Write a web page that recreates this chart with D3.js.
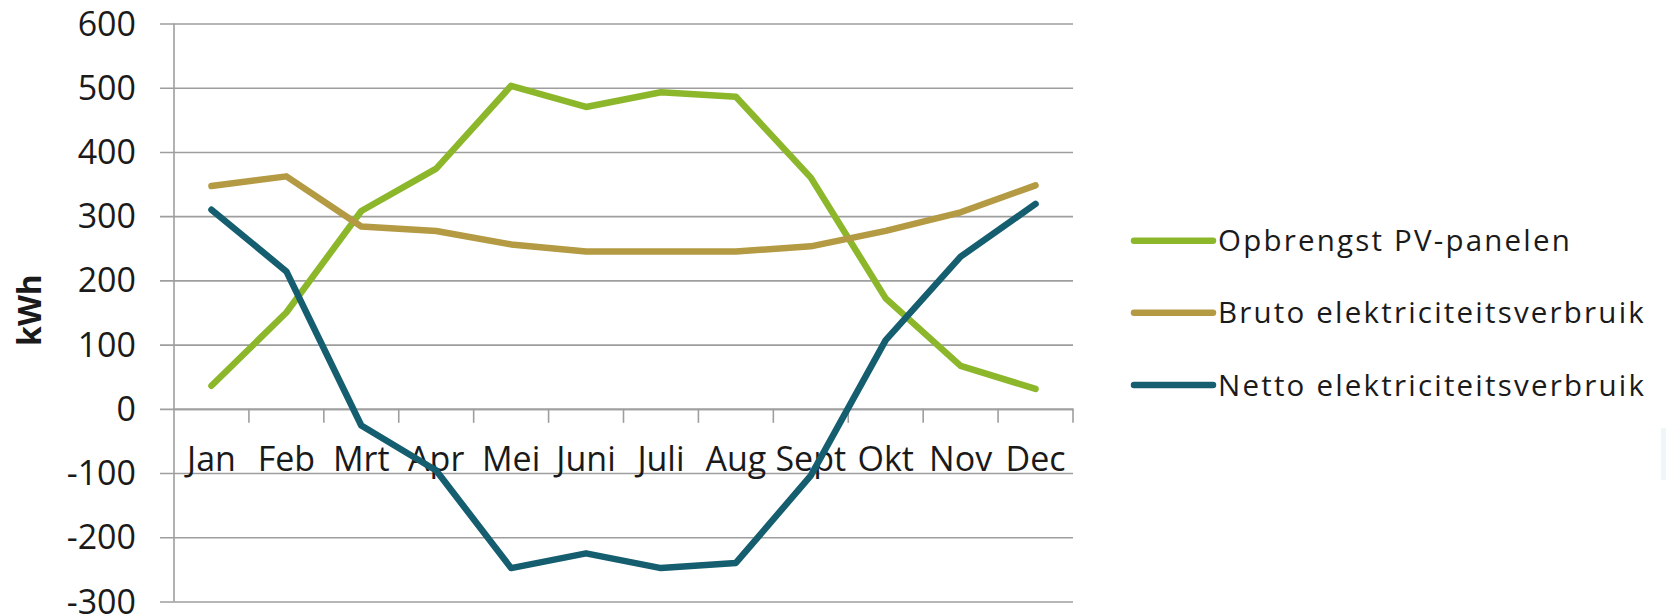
<!DOCTYPE html>
<html>
<head>
<meta charset="utf-8">
<script src="https://cdn.jsdelivr.net/npm/d3@7"></script>
<style>
  html, body { margin: 0; padding: 0; background: #fff; }
  svg { display: block; }
  text { font-family: "Open Sans", sans-serif; fill: #1a1a1a; }
</style>
</head>
<body>
<svg id="chart" width="1666" height="616"></svg>
<script>
const categories = ["Jan", "Feb", "Mrt", "Apr", "Mei", "Juni", "Juli", "Aug", "Sept", "Okt", "Nov", "Dec"];
const pvValues    = [36, 150, 308, 374, 503, 470, 493, 486, 360, 172, 67, 31];
const brutoValues = [347, 362, 284, 277, 256, 245, 245, 245, 253, 277, 306, 348];
const nettoValues = [310, 214, -26, -96, -248, -225, -248, -240, -104, 107, 237, 319];
const seriesNames = ["Opbrengst PV-panelen", "Bruto elektriciteitsverbruik", "Netto elektriciteitsverbruik"];
const seriesColors = ["#8cb72b", "#b39a43", "#155e6f"];
const yTicks = [-300, -200, -100, 0, 100, 200, 300, 400, 500, 600];
const yLabel = "kWh";

(function () {
const svg = d3.select("#chart");
const pLeft = 174, pRight = 1073, pTop = 23.5, pBottom = 601.5;

const x = d3.scaleBand().domain(categories).range([pLeft, pRight]).paddingInner(0).paddingOuter(0);
const y = d3.scaleLinear().domain([-300, 600]).range([pBottom, pTop]);

// faint artifact at right edge
svg.append("rect").attr("x", 1661).attr("y", 428).attr("width", 5).attr("height", 52).attr("fill", "#eef6f9");

// gridlines + y axis
const yAxis = d3.axisLeft(y).tickValues(yTicks).tickSize(pRight - pLeft + 14).tickPadding(24).tickFormat(d => String(d));
const gy = svg.append("g").attr("transform", `translate(${pRight},0)`).call(yAxis);
gy.select(".domain").remove();
gy.selectAll(".tick line").attr("stroke", "#9e9e9e").attr("stroke-width", 1.6);
gy.selectAll(".tick text").attr("font-size", 34).attr("fill", "#222")
  .attr("x", 136 - pRight).attr("text-anchor", "end").attr("dy", "0.34em");

// y axis line
svg.append("line").attr("x1", pLeft).attr("x2", pLeft).attr("y1", pTop).attr("y2", pBottom)
  .attr("stroke", "#9e9e9e").attr("stroke-width", 1.6);

// x axis at 0
const y0 = y(0);
const xAxis = d3.axisBottom(x).tickSize(0).tickPadding(0);
const gx = svg.append("g").attr("transform", `translate(0,${y0})`).call(xAxis);
gx.select(".domain").attr("stroke", "#9e9e9e").attr("stroke-width", 1.6);
gx.selectAll(".tick text").attr("font-size", 34).attr("fill", "#222").attr("y", 62).attr("dy", 0);
// boundary ticks
const bounds = categories.slice(1).map(c => x(c)).concat([pRight]);
svg.append("g").selectAll("line").data(bounds).join("line")
  .attr("x1", d => d).attr("x2", d => d).attr("y1", y0).attr("y2", y0 + 14)
  .attr("stroke", "#9e9e9e").attr("stroke-width", 1.6);

// y label
svg.append("text").attr("transform", `translate(41,310) rotate(-90)`)
  .attr("text-anchor", "middle").attr("font-size", 32).attr("font-weight", "bold")
  .attr("fill", "#000").text(yLabel);

// lines
const line = d3.line().x((d, i) => x(categories[i]) + x.bandwidth() / 2).y(d => y(d));
const allSeries = [pvValues, brutoValues, nettoValues];
allSeries.forEach((vals, k) => {
  svg.append("path").datum(vals).attr("d", line)
    .attr("fill", "none").attr("stroke", seriesColors[k]).attr("stroke-width", 6.5)
    .attr("stroke-linejoin", "round").attr("stroke-linecap", "round");
});

// legend
const legendY = [240.7, 312.7, 385];
seriesNames.forEach((name, k) => {
  const g = svg.append("g");
  g.append("line").attr("x1", 1134).attr("x2", 1213).attr("y1", legendY[k]).attr("y2", legendY[k])
    .attr("stroke", seriesColors[k]).attr("stroke-width", 6.5).attr("stroke-linecap", "round");
  g.append("text").attr("x", 1218).attr("y", legendY[k]).attr("dy", "0.36em")
    .attr("font-size", 29.5).attr("letter-spacing", 2.2).attr("fill", "#111").text(name);
});
})();
</script>
</body>
</html>
